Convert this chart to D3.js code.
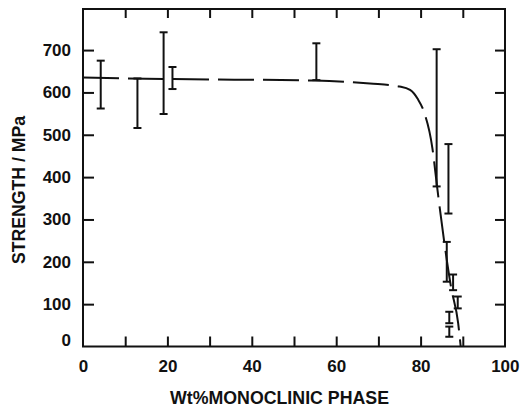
<!DOCTYPE html>
<html>
<head>
<meta charset="utf-8">
<script src="https://cdn.jsdelivr.net/npm/d3@7"></script>
<style>
  body { margin: 0; background: #fff; }
  svg text { font-family: "Liberation Sans", Arial, sans-serif; font-weight: bold; fill: #111; }
</style>
</head>
<body>
<svg id="chart" width="520" height="408"></svg>
<script>
// error bars: x position (wt% monoclinic), low / high strength (MPa)
const barX    = [4.2, 12.9, 19.1, 21.2, 55.3, 83.8, 86.6, 86.2, 87.7, 88.8, 86.8, 86.8];
const barLow  = [562, 516, 549, 608, 629, 378, 314, 153, 133, 90, 55, 23];
const barHigh = [675, 633, 742, 660, 716, 702, 478, 247, 170, 118, 82, 47];

// dashed trend curve
const curveX = [0, 21, 55, 68, 75, 77.5, 79.3, 80.8, 82.8, 83.9, 85.6, 87.2, 88.9, 89.5];
const curveY = [635, 631.5, 628, 621, 614, 606, 585, 554, 468, 378, 247, 141, 55, 0];

const xLabels = [0, 20, 40, 60, 80, 100];
const xTicks  = [10, 20, 30, 40, 50, 60, 70, 80, 90];
const yLabels = [0, 100, 200, 300, 400, 500, 600, 700];
const yTicks  = [100, 200, 300, 400, 500, 600, 700];

const svg = d3.select("#chart");
const x = d3.scaleLinear().domain([0, 100]).range([83, 505]);
const y = d3.scaleLinear().domain([0, 797]).range([346.5, 9]);

const ink = "#111";

// frame
svg.append("rect")
    .attr("x", x(0)).attr("y", y(797))
    .attr("width", x(100) - x(0)).attr("height", y(0) - y(797))
    .attr("fill", "none").attr("stroke", ink).attr("stroke-width", 2);

// inward ticks on all four sides
const addAxis = (axis, tx, ty) => {
    let g = svg.append("g").attr("transform", `translate(${tx},${ty})`).call(axis);
    g.select(".domain").remove();
    g.selectAll(".tick line").attr("stroke", ink).attr("stroke-width", 2);
    return g;
}
addAxis(d3.axisBottom(x).tickValues(xTicks).tickSize(-10).tickFormat(""), 0, y(0));
addAxis(d3.axisTop(x).tickValues(xTicks).tickSize(-9).tickFormat(""), 0, y(797));
addAxis(d3.axisLeft(y).tickValues(yTicks).tickSize(-11).tickFormat(""), x(0), 0);
addAxis(d3.axisRight(y).tickValues(yTicks).tickSize(-10).tickFormat(""), x(100), 0);

// tick labels
let xl = addAxis(d3.axisBottom(x).tickValues(xLabels).tickSize(0).tickPadding(13), 0, y(0));
xl.selectAll("text").attr("font-size", 17).attr("fill", ink)
    .attr("text-anchor", d => d === 100 ? "end" : "middle")
    .attr("dx", d => d === 100 ? 14 : 0);
let yl = addAxis(d3.axisLeft(y).tickValues(yLabels).tickSize(0).tickPadding(12), x(0), 0);
yl.selectAll("text").attr("font-size", 17).attr("fill", ink)
    .attr("transform", d => d === 0 ? "translate(0,-6)" : null);
svg.selectAll(".tick text").style("font-family", null);
svg.selectAll("g").attr("font-family", null);

// axis titles
svg.append("text")
    .attr("x", 170).attr("y", 403.5)
    .attr("font-size", 19)
    .attr("textLength", 219).attr("lengthAdjust", "spacingAndGlyphs")
    .text("Wt%MONOCLINIC PHASE");
svg.append("text")
    .attr("transform", "translate(25,190) rotate(-90)")
    .attr("text-anchor", "middle")
    .attr("font-size", 18)
    .attr("textLength", 148).attr("lengthAdjust", "spacingAndGlyphs")
    .text("STRENGTH / MPa");

// dashed curve
const line = d3.line()
    .x(i => x(curveX[i]))
    .y(i => y(curveY[i]))
    .curve(d3.curveMonotoneX);
svg.append("path")
    .attr("d", line(d3.range(curveX.length)))
    .attr("fill", "none").attr("stroke", ink).attr("stroke-width", 2)
    .attr("stroke-dasharray", "36,9");

// error bars
const bars = svg.append("g").attr("stroke", ink).attr("stroke-width", 2);
const capW = 4;
barX.forEach((bx, i) => {
    let g = bars.append("g");
    g.append("line").attr("x1", x(bx)).attr("x2", x(bx))
        .attr("y1", y(barLow[i])).attr("y2", y(barHigh[i]));
    [barLow[i], barHigh[i]].forEach(v => {
        g.append("line").attr("x1", x(bx) - capW).attr("x2", x(bx) + capW)
            .attr("y1", y(v)).attr("y2", y(v));
    });
});
</script>
</body>
</html>
